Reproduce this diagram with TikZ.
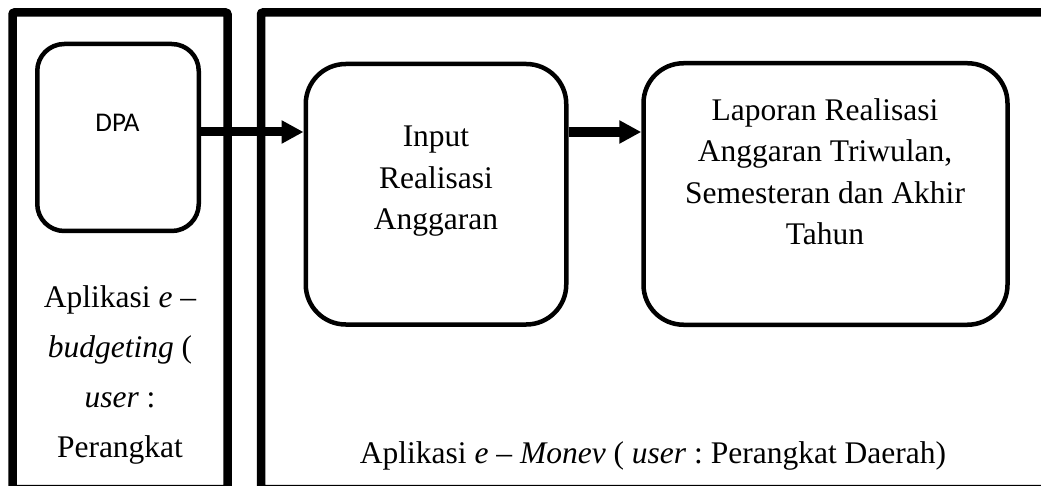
\documentclass[tikz,border=0pt]{standalone}
\usepackage{fontspec}
\setmainfont{Liberation Serif}
\newfontfamily\calibri{Carlito}
\usetikzlibrary{positioning,arrows.meta}
\frenchspacing

\begin{document}
\begin{tikzpicture}[x=1pt,y=-1pt,
    panel/.style={line width=8.5pt,rounded corners=2pt},
    procbox/.style={draw,line width=4.5pt,rounded corners=40pt,inner sep=0pt},
    boxtext/.style={align=center,anchor=base,font=\fontsize{31.5}{41.5}\selectfont},
    flow/.style={line width=9pt,-{Triangle[length=22pt,width=22pt]}}]
  \useasboundingbox (0,0) rectangle (1041,486);
  \clip (0,0) rectangle (1041,486);

  % the two applications
  \draw[panel] (12.5,12.5) rectangle (227.5,489);
  \draw[panel] (261,12.5) rectangle (1060,489);

  \node[procbox,rounded corners=27pt,minimum width=161.5pt,minimum height=187pt] (dpa) at (118,137.5) {};
  \node[procbox,minimum width=260.5pt,minimum height=260.5pt] (input) at (436,194.25) {};
  \node[procbox,minimum width=364pt,minimum height=261.5pt] (laporan) at (825.5,194) {};

  % base = baseline of the last line
  \node[anchor=base,font=\calibri\fontsize{27}{32}\selectfont] (dpatext) at (117.5,132) {DPA};
  \node[boxtext] (inputtext) at (436,230) {Input\\Realisasi\\Anggaran};
  \node[boxtext] (laportext) at (825,245) {Laporan Realisasi\\Anggaran Triwulan,\\Semesteran dan Akhir\\Tahun};
  \node[boxtext,font=\fontsize{31.5}{49.7}\selectfont] (budgettext) at (120,457)
    {Aplikasi \textit{e} –\\\textit{budgeting} (\\\textit{user} :\\Perangkat};
  \node[boxtext] (monevtext) at (653,463)
    {Aplikasi \textit{e} – \textit{Monev} ( \textit{user} : Perangkat Daerah)};

  \coordinate (flowline) at (0,132);
  \draw[flow] (dpa.east |- flowline) -- (input.west |- flowline);
  \draw[flow,line width=10.5pt] (input.east |- flowline) -- (laporan.west |- flowline);
\end{tikzpicture}
\end{document}
